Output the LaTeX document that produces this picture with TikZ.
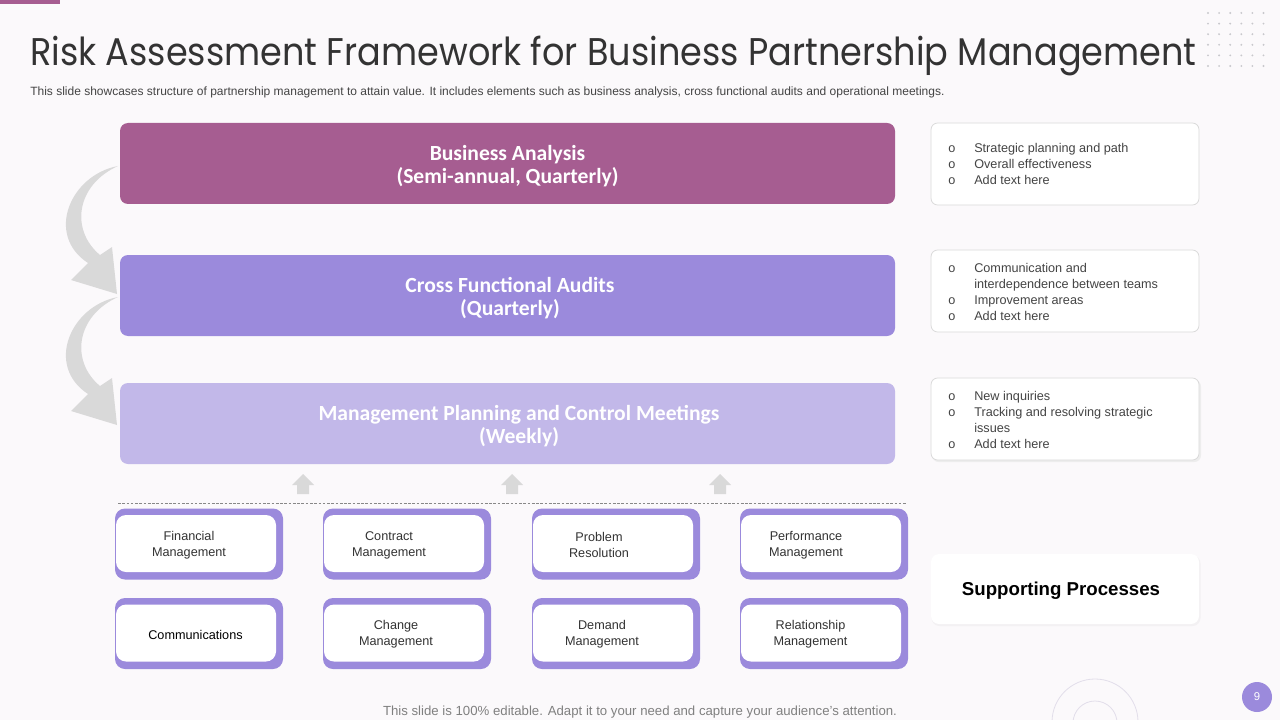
\documentclass[tikz,border=0pt]{standalone}
\usepackage{fontspec}
\setmainfont{Liberation Sans}
\newfontfamily\titlefont{Poppins}
\newfontfamily\barfont{Carlito}
\definecolor{bgc}{HTML}{FBF9FB}
\definecolor{pinkp}{HTML}{A65D91}
\definecolor{purp}{HTML}{9B8ADC}
\definecolor{lavp}{HTML}{C2B8E9}
\definecolor{greyarr}{HTML}{D9D9D9}
\definecolor{txtdark}{HTML}{333333}
\definecolor{txtgrey}{HTML}{444444}
\definecolor{boxline}{HTML}{DADADA}
\definecolor{dotc}{HTML}{C8C8CC}
\definecolor{circc}{HTML}{E2DEEA}
\definecolor{shadc}{HTML}{EDEDED}
\definecolor{shadb}{HTML}{F3F1F3}
\definecolor{dashc}{HTML}{888888}
\definecolor{footc}{HTML}{808080}
\newcommand\smallproc[5]{%
  \fill[purp, rounded corners=7.5pt] (#2-84,#3-35.5) rectangle (#2+84,#3+35.5);
  \fill[white, rounded corners=7.5pt] (#2-83,#3-29) rectangle (#2+77,#3+28);
  \node[stext] (#1) at (#4,#3+1) {#5};
}
\newcommand\uparr[1]{%
  \fill[greyarr] (#1,474) -- (#1+11,485) -- (#1+6,485) -- (#1+6,494) -- (#1-6,494) -- (#1-6,485) -- (#1-11,485) -- cycle;
}
\begin{document}
\begin{tikzpicture}[x=0.75pt,y=-0.75pt,
  bar/.style={rounded corners=6pt, minimum width=581.25pt, minimum height=60.75pt, inner sep=0pt},
  bartxt/.style={inner sep=0pt, align=center, text=white, font=\barfont\bfseries\fontsize{16.2}{17.25}\selectfont},
  rbox/.style={draw=boxline, line width=0.6pt, fill=white, rounded corners=5pt, minimum width=201pt, minimum height=61.5pt, inner sep=0pt},
  rtext/.style={anchor=west, inner sep=0pt, text=txtgrey, font=\fontsize{9.5}{12}\selectfont},
  stext/.style={align=center, inner sep=0pt, text=txtdark, font=\fontsize{9.5}{12}\selectfont},
  curvarr/.style={fill=greyarr}
]
\useasboundingbox (0,0) rectangle (1280,720);
\fill[bgc] (0,0) rectangle (1280,720);
\fill[pinkp] (0,0) rectangle (60,4);

% dot grid
\foreach \i in {0,...,5}
  \foreach \j in {0,...,5}
    \fill[dotc] (1208+\i*11.1, 13+\j*10.6) circle (0.8pt);

% title
\node[anchor=base west, inner sep=0pt, text=txtdark, font=\titlefont\fontsize{26.3}{32}\selectfont] (title) at (30,66) {\scalebox{1}[1.1]{Risk Assessment Framework for Business Partnership Management}};
\node[anchor=base west, inner sep=0pt, text=txtgrey, font=\fontsize{9}{10}\selectfont] (sub) at (30,96) {This slide showcases structure of partnership management to attain value. It includes elements such as business analysis, cross functional audits and operational meetings.};

% curved arrows
\fill[curvarr] (118,166) .. controls (70,175) and (45,235) .. (88,263) -- (71,280) -- (117,294) -- (112,247) -- (100,255) .. controls (70,230) and (76,185) .. (118,166) -- cycle;
\begin{scope}[shift={(0,131)}]
\fill[curvarr] (118,166) .. controls (70,175) and (45,235) .. (88,263) -- (71,280) -- (117,294) -- (112,247) -- (100,255) .. controls (70,230) and (76,185) .. (118,166) -- cycle;
\end{scope}

% main bars
\node[bar, fill=pinkp] (ba) at (507.5,163.5) {};
\node[bartxt] (bat) at (507.5,166.5) {Business Analysis\\(Semi-annual, Quarterly)};
\node[bar, fill=purp] (cfa) at (507.5,295.5) {};
\node[bartxt] (cfat) at (510,298.5) {Cross Functional Audits\\(Quarterly)};
\node[bar, fill=lavp] (mpc) at (507.5,423.5) {};
\node[bartxt] (mpct) at (519,426.5) {Management Planning and Control Meetings\\(Weekly)};

% right boxes
\node[rbox] (ra) at (1065,164) {};
\node[rbox] (rb) at (1065,291) {};
\fill[shadc, rounded corners=5pt] (932,380) rectangle (1201,462);
\node[rbox] (rc) at (1065,419) {};
\node[rtext] (ta) at (948,165) {\begin{tabular}{@{}p{19.5pt}@{}p{150pt}@{}}
o & Strategic planning and path\\
o & Overall effectiveness\\
o & Add text here\end{tabular}};
\node[rtext] (tb) at (948,293) {\begin{tabular}{@{}p{19.5pt}@{}p{150pt}@{}}
o & Communication and\newline interdependence between teams\\
o & Improvement areas\\
o & Add text here\end{tabular}};
\node[rtext] (tc) at (948,421) {\begin{tabular}{@{}p{19.5pt}@{}p{150pt}@{}}
o & New inquiries\\
o & Tracking and resolving strategic\newline issues\\
o & Add text here\end{tabular}};

% up arrows
\uparr{303}
\uparr{512}
\uparr{720}

% dashed line
\coordinate (dl) at (118,503);
\coordinate (dr) at (907,503);
\draw[color=dashc, line width=0.5pt, dash pattern=on 2pt off 1.2pt] (dl) -- (dr);

% supporting process boxes
\smallproc{p1}{199}{544}{189}{Financial\\Management}
\smallproc{p2}{407}{544}{389}{Contract\\Management}
\smallproc{p3}{616}{544}{599}{Problem\\Resolution}
\smallproc{p4}{824}{544}{806}{Performance\\Management}
\smallproc{p5}{199}{633.5}{195.5}{\textcolor{black}{Communications}}
\smallproc{p6}{407}{633.5}{396}{Change\\Management}
\smallproc{p7}{616}{633.5}{602}{Demand\\Management}
\smallproc{p8}{824}{633.5}{810.5}{Relationship\\Management}

% supporting processes label
\fill[shadb, rounded corners=6pt] (931.5,555.5) rectangle (1200.5,626);
\node[fill=white, rounded corners=6pt, minimum width=201pt, minimum height=52.5pt, inner sep=0pt] (sp) at (1065,589) {};
\node[inner sep=0pt, font=\bfseries\fontsize{14}{16}\selectfont] (spt) at (1061,591) {Supporting Processes};

% decorative circles
\draw[circc, line width=0.6pt] (1095,722) circle (32.25pt);
\draw[circc, line width=0.6pt] (1095,723) circle (16.5pt);

% page number
\node[circle, fill=purp, minimum size=22.5pt, inner sep=0pt, text=white, font=\fontsize{8.5}{9}\selectfont] (pg) at (1257,697) {9};

% footer
\node[anchor=base, inner sep=0pt, text=footc, font=\fontsize{9.9}{11}\selectfont] (foot) at (640,715) {This slide is 100\% editable. Adapt it to your need and capture your audience’s attention.};
\end{tikzpicture}
\end{document}
